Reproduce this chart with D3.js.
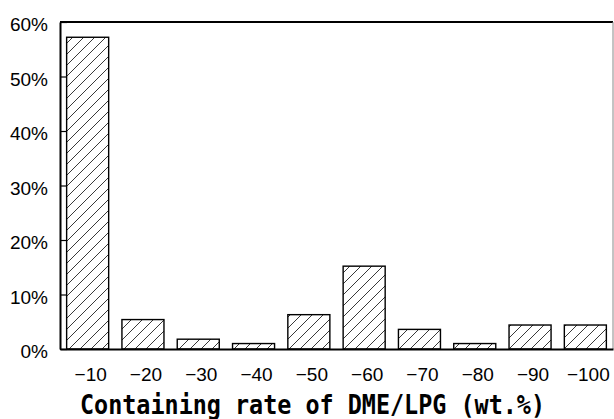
<!DOCTYPE html>
<html>
<head>
<meta charset="utf-8">
<script src="https://cdn.jsdelivr.net/npm/d3@7"></script>
<style>
html,body{margin:0;padding:0;background:#fff;}
svg{display:block;}
</style>
</head>
<body>
<script>
const categories = ["\u221210","\u221220","\u221230","\u221240","\u221250","\u221260","\u221270","\u221280","\u221290","\u2212100"];
const values = [0.572, 0.054, 0.018, 0.010, 0.063, 0.152, 0.036, 0.010, 0.044, 0.044];
const yTicks = [0, 0.1, 0.2, 0.3, 0.4, 0.5, 0.6];
const xTitle = "Containing rate of DME/LPG (wt.%)";

const W = 614, H = 419;
const svg = d3.select("body").append("svg").attr("width", W).attr("height", H);

const mLeft = 60, mRight = 613, mTop = 22, mBottom = 349;

const defs = svg.append("defs");
const ps = 11;
const pat = defs.append("pattern").attr("id","hatch").attr("patternUnits","userSpaceOnUse")
  .attr("width",ps).attr("height",ps);
pat.append("rect").attr("width",ps).attr("height",ps).attr("fill","#fff");
pat.append("path").attr("d",`M0,${ps} L${ps},0 M${-ps/2},${ps/2} L${ps/2},${-ps/2} M${ps/2},${ps*1.5} L${ps*1.5},${ps/2}`)
  .attr("stroke","#222").attr("stroke-width",0.9);

const x = d3.scaleBand().domain(categories).range([mLeft, mRight]).paddingInner(0.24).paddingOuter(0.12);
const y = d3.scaleLinear().domain([0, 0.6]).range([mBottom, mTop]);

// frame top & right
svg.append("line").attr("x1",mLeft).attr("x2",mRight).attr("y1",mTop).attr("y2",mTop)
  .attr("stroke","#000").attr("stroke-width",2);
svg.append("line").attr("x1",mRight).attr("x2",mRight).attr("y1",mTop).attr("y2",mBottom)
  .attr("stroke","#888").attr("stroke-width",1);

// bars
svg.append("g").selectAll("rect").data(values).join("rect")
  .attr("x",(d,i)=>x(categories[i]))
  .attr("y",d=>y(d))
  .attr("width",x.bandwidth())
  .attr("height",d=>y(0)-y(d))
  .attr("fill","url(#hatch)")
  .attr("stroke","#000").attr("stroke-width",1.4);

// y axis
const yAxis = d3.axisLeft(y).tickValues(yTicks).tickFormat(d3.format(".0%")).tickSizeInner(-7).tickSizeOuter(0).tickPadding(12);
const gy = svg.append("g").attr("transform",`translate(${mLeft},0)`).call(yAxis);
gy.select(".domain").attr("stroke","#000").attr("stroke-width",2);
gy.selectAll(".tick line").attr("stroke","#000").attr("stroke-width",1.2);
gy.selectAll(".tick text").attr("font-family","'Liberation Sans', Arial, sans-serif")
  .attr("font-size",19).attr("fill","#000").attr("dy","0.45em");

// x axis
const xAxis = d3.axisBottom(x).tickSize(0).tickPadding(0);
const gx = svg.append("g").attr("transform",`translate(0,${mBottom})`).call(xAxis);
gx.select(".domain").attr("stroke","#000").attr("stroke-width",2);
gx.selectAll(".tick text").attr("font-family","'Liberation Sans', Arial, sans-serif")
  .attr("font-size",19).attr("fill","#000").attr("y",32).attr("dy",0).attr("dx",3);

// title
svg.append("text").attr("x",312.5).attr("y",414).attr("text-anchor","middle")
  .attr("font-family","'DejaVu Sans Mono', monospace").attr("font-size",26).attr("font-weight","bold")
  .attr("textLength",465).attr("lengthAdjust","spacingAndGlyphs")
  .attr("fill","#000").text(xTitle);
</script>
</body>
</html>
